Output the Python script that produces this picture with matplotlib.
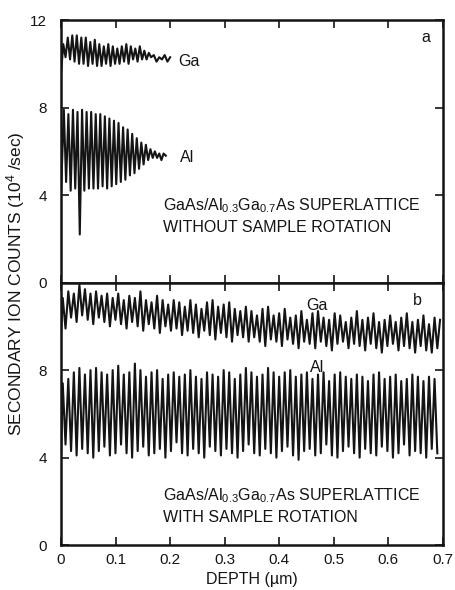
import matplotlib
matplotlib.use('Agg')
import matplotlib.pyplot as plt
import numpy as np

plt.rcParams['font.family'] = ['Liberation Sans', 'DejaVu Sans']
plt.rcParams['mathtext.default'] = 'regular'

# ---- panel a: without sample rotation (values in 10^4 counts/sec) ----
ga_a_range = (0.004, 0.165)
ga_a_start = [9.6]
ga_a_peaks = [10.9, 11.2, 11.3, 11.3, 11.2, 11.2, 11.0, 11.1, 10.9, 10.8,
              10.9, 10.8, 10.7, 10.8, 10.9, 10.8, 10.7, 10.8, 10.6, 10.5]
ga_a_troughs = [10.3, 10.2, 10.1, 10.0, 10.0, 9.9, 10.0, 9.9, 9.9, 10.0,
                9.9, 10.0, 10.0, 10.1, 10.0, 10.2, 10.1, 10.2, 10.2, 10.3]
ga_a_tail_x = [0.170, 0.175, 0.180, 0.185, 0.190, 0.195, 0.200]
ga_a_tail = [10.4, 10.1, 10.3, 10.2, 10.4, 10.1, 10.3]

al_a_range = (0.005, 0.168)
al_a_start = [4.2]
al_a_peaks = [7.9, 7.7, 7.9, 7.8, 7.9, 7.8, 7.8, 7.7, 7.7, 7.6,
              7.5, 7.4, 7.3, 7.1, 7.0, 6.8, 6.6, 6.4, 6.3, 6.1]
al_a_troughs = [4.6, 4.2, 4.3, 2.2, 4.2, 4.3, 4.3, 4.3, 4.4, 4.3,
                4.4, 4.5, 4.6, 4.7, 4.9, 5.0, 5.2, 5.4, 5.6, 5.7]
al_a_tail_x = [0.172, 0.176, 0.180, 0.184, 0.188, 0.192]
al_a_tail = [6.0, 5.7, 5.9, 5.6, 5.9, 5.8]

# ---- panel b: with sample rotation ----
ga_b_range = (0.003, 0.69)
ga_b_start = [9.7]
ga_b_peaks = [11.3, 11.6, 11.5, 11.9, 11.7, 11.5, 11.6, 11.4, 11.5, 11.3,
              11.5, 11.2, 11.4, 11.3, 11.6, 11.2, 11.1, 11.4, 11.2, 11.0,
              11.2, 11.1, 10.9, 11.2, 11.0, 10.8, 11.1, 11.2, 10.9, 11.0,
              11.1, 10.8, 10.7, 10.9, 10.7, 10.5, 10.8, 10.9, 10.5, 10.6,
              10.8, 10.4, 10.5, 10.7, 10.3, 10.6, 10.7, 10.4, 10.3, 10.6,
              10.5, 10.2, 10.4, 10.7, 10.3, 10.4, 10.6, 10.2, 10.3, 10.5,
              10.2, 10.4, 10.6, 10.2, 10.3, 10.5, 10.1, 10.4]
ga_b_troughs = [9.9, 10.4, 10.2, 10.5, 10.3, 10.1, 10.4, 10.2, 10.0, 10.3,
                10.1, 9.9, 10.2, 10.0, 9.8, 10.1, 9.9, 9.7, 10.0, 9.8,
                9.9, 9.6, 9.8, 9.7, 9.5, 9.8, 9.6, 9.4, 9.7, 9.5,
                9.3, 9.6, 9.5, 9.3, 9.5, 9.3, 9.1, 9.4, 9.3, 9.1,
                9.4, 9.2, 9.0, 9.3, 9.2, 9.0, 9.3, 9.1, 8.9, 9.2,
                9.3, 9.0, 9.2, 9.1, 8.9, 9.2, 9.0, 8.8, 9.1, 9.2,
                8.9, 9.1, 9.0, 8.8, 9.1, 8.9, 8.8, 9.0]
ga_b_tail_x = [0.695]
ga_b_tail = [10.3]

al_b_range = (0.003, 0.69)
al_b_start = [4.2]
al_b_peaks = [7.4, 7.6, 7.9, 8.1, 7.8, 8.0, 8.1, 7.9, 7.8, 8.0,
              8.2, 7.8, 7.9, 8.3, 8.0, 7.7, 7.9, 8.0, 7.6, 7.8,
              7.9, 7.7, 7.8, 8.0, 7.7, 7.6, 7.9, 7.8, 7.7, 8.0,
              7.9, 7.6, 7.8, 8.1, 7.9, 7.7, 7.8, 8.1, 7.9, 7.7,
              7.9, 8.0, 7.7, 7.8, 7.9, 7.6, 7.8, 7.9, 7.5, 7.8,
              7.9, 7.7, 7.6, 7.8, 7.7, 7.5, 7.8, 7.9, 7.6, 7.7,
              7.8, 7.5, 7.6, 7.8, 7.7, 7.5, 7.7, 7.6]
al_b_troughs = [4.6, 4.3, 4.1, 4.4, 4.2, 4.0, 4.3, 4.5, 4.1, 4.2,
                4.6, 4.2, 4.0, 4.3, 4.5, 4.1, 4.2, 4.4, 4.0, 4.3,
                4.7, 4.2, 4.1, 4.4, 4.2, 4.0, 4.5, 4.3, 4.1, 4.4,
                4.2, 4.0, 4.3, 4.6, 4.2, 4.1, 4.4, 4.2, 4.0, 4.3,
                4.5, 4.1, 3.9, 4.3, 4.4, 4.1, 4.2, 4.6, 4.1, 4.0,
                4.3, 4.5, 4.2, 4.0, 4.4, 4.2, 4.1, 4.5, 4.3, 4.0,
                4.2, 4.6, 4.1, 4.3, 4.2, 4.0, 4.4, 4.2]

yticks = [0, 4, 8, 12]
xticks = [0, 0.1, 0.2, 0.3, 0.4, 0.5, 0.6, 0.7]
ink = '#141414'


def trace(start, peaks, troughs, rng, tail_x=(), tail=()):
    # alternate peak/trough readings across the depth range
    vals = []
    for p, t in zip(peaks, troughs):
        vals += [p, t]
    x = list(np.linspace(rng[0], rng[1], len(vals)))
    return [0.0] + x + list(tail_x), list(start) + vals + list(tail)


fig, (ax1, ax2) = plt.subplots(2, 1, figsize=(4.56, 5.90), dpi=100, sharex=True)
fig.subplots_adjust(left=0.134, right=0.971, top=0.966, bottom=0.076, hspace=0)

lw = 1.5
x, y = trace(ga_a_start, ga_a_peaks, ga_a_troughs, ga_a_range, ga_a_tail_x, ga_a_tail)
ax1.plot(x, y, color=ink, lw=lw)
x, y = trace(al_a_start, al_a_peaks, al_a_troughs, al_a_range, al_a_tail_x, al_a_tail)
ax1.plot(x, y, color=ink, lw=lw)
x, y = trace(ga_b_start, ga_b_peaks, ga_b_troughs, ga_b_range, ga_b_tail_x, ga_b_tail)
ax2.plot(x, y, color=ink, lw=lw)
x, y = trace(al_b_start, al_b_peaks, al_b_troughs, al_b_range)
ax2.plot(x, y, color=ink, lw=lw)

for ax in (ax1, ax2):
    ax.set_xlim(0, 0.7)
    ax.set_ylim(0, 12)
    ax.set_yticks(yticks)
    ax.set_xticks(xticks)
    ax.tick_params(direction='in', length=6, width=1.2, top=True, right=True,
                   labelsize=11, colors=ink)
    ax.tick_params(axis='y', pad=10)
    ax.tick_params(axis='x', pad=6)
    for s in ax.spines.values():
        s.set_linewidth(1.8)
        s.set_color(ink)

ax1.set_yticklabels(['0', '4', '8', '12'])
ax2.set_yticklabels(['0', '4', '8', ''])
ax2.set_xticklabels(['0', '0.1', '0.2', '0.3', '0.4', '0.5', '0.6', '0.7'])

fs = 11.5
ax1.text(0.214, 10.1, 'Ga', fontsize=fs, va='center', color=ink)
ax1.text(0.218, 5.7, 'Al', fontsize=fs, va='center', color=ink)
ax1.text(0.66, 11.2, 'a', fontsize=fs, va='center', color=ink)
ax1.text(0.187, 3.5, 'GaAs/Al$_{0.3}$Ga$_{0.7}$As SUPERLATTICE', fontsize=fs,
         va='center', color=ink)
ax1.text(0.187, 2.5, 'WITHOUT SAMPLE ROTATION', fontsize=fs, va='center', color=ink)

ax2.text(0.450, 10.95, 'Ga', fontsize=fs, va='center', color=ink)
ax2.text(0.456, 8.1, 'Al', fontsize=fs, va='center', color=ink)
ax2.text(0.645, 11.2, 'b', fontsize=fs, va='center', color=ink)
ax2.text(0.187, 2.27, 'GaAs/Al$_{0.3}$Ga$_{0.7}$As SUPERLATTICE', fontsize=fs,
         va='center', color=ink)
ax2.text(0.187, 1.27, 'WITH SAMPLE ROTATION', fontsize=fs, va='center', color=ink)

ax2.set_xlabel('DEPTH (\u00b5m)', fontsize=11.5, color=ink, labelpad=3)
fig.text(0.035, 0.52, 'SECONDARY ION COUNTS (10$^4$ /sec)', rotation=90,
         fontsize=12.5, ha='center', va='center', color=ink)

fig.savefig('out.png', dpi=100)
